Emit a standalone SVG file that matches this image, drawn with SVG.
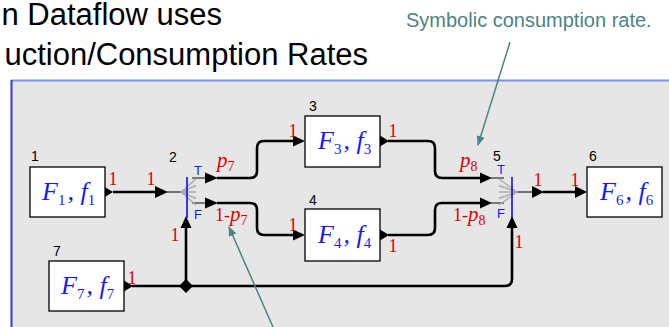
<svg xmlns="http://www.w3.org/2000/svg" width="669" height="327" viewBox="0 0 669 327">
<defs>
<style>
.title{font-family:"Liberation Sans",Arial,sans-serif;font-size:31px;fill:#000}
.note{font-family:"Liberation Sans",Arial,sans-serif;font-size:20px;fill:#4a8484}
.box{fill:#fff;stroke:#000;stroke-width:1.3}
.fn{font-family:"Liberation Serif","Times New Roman",serif;font-style:italic;font-size:26px;fill:#1a1af0}
.sub{font-style:normal;font-size:15px}
.num{font-family:"Liberation Sans",Arial,sans-serif;font-size:14px;fill:#000}
.rate{font-family:"Liberation Serif","Times New Roman",serif;font-size:18px;fill:#e00000}
.rit{font-style:italic;font-size:21px}
.tf{font-family:"Liberation Sans",Arial,sans-serif;font-size:13px;fill:#1a1af0;text-anchor:middle}
.wire{fill:none;stroke:#000;stroke-width:2.6}
.thin{fill:none;stroke:#555;stroke-width:1.6}
.fan{fill:none;stroke:#aaa;stroke-width:1.4}
.sw{stroke:#1010f0;stroke-width:1.6}
.ann{fill:none;stroke:#4a8484;stroke-width:1.5}
</style>
<marker id="ah" viewBox="0 0 10 8" refX="9" refY="4" markerWidth="10" markerHeight="8" markerUnits="userSpaceOnUse" orient="auto">
<path d="M0,0 L10,4 L0,8 z" fill="#4a8484"/>
</marker>
</defs>
<rect width="669" height="327" fill="#fff"/>
<text class="title" x="222" y="25" text-anchor="end">n Dataflow uses</text>
<text class="title" x="368" y="65" text-anchor="end">uction/Consumption Rates</text>
<rect x="12" y="80" width="657" height="247" fill="#e6e6e6"/>
<line x1="11" y1="80.5" x2="669" y2="80.5" stroke="#7f8ff2" stroke-width="2"/>
<line x1="11.5" y1="80" x2="11.5" y2="327" stroke="#2a3ce8" stroke-width="2"/>
<text class="note" x="406" y="27">Symbolic consumption rate.</text>

<g id="connectors">
<polygon points="104,186.5 113,192 104,197.5"/>
<path class="wire" d="M113 192 H158"/>
<polygon points="155,186 168,192 155,198"/>
<path class="thin" d="M167 192 H181"/>
<path class="thin" d="M192 178 H206 M192 203 H206"/>
<polygon points="205,172.5 218,178 205,183.5"/>
<polygon points="205,197.5 218,203 205,208.5"/>
<path class="wire" d="M217 178 H250 Q257 178 257 171 V148 Q257 141 264 141 H295"/>
<polygon points="293,135.5 305,141 293,146.5"/>
<path class="wire" d="M217 203 H250 Q257 203 257 210 V228 Q257 235 264 235 H295"/>
<polygon points="293,229.5 305,235 293,240.5"/>
<polygon points="380,135.5 389,141 380,146.5"/>
<polygon points="380,229.5 389,235 380,240.5"/>
<path class="wire" d="M388 141 H428 Q435 141 435 148 V171 Q435 178 442 178 H482"/>
<path class="wire" d="M388 235 H428 Q435 235 435 228 V210 Q435 203 442 203 H482"/>
<polygon points="480,172.5 492,178 480,183.5"/>
<polygon points="480,197.5 492,203 480,208.5"/>
<path class="thin" d="M491 178 H504 M491 203 H504"/>
<path class="thin" d="M516 192 H533"/>
<polygon points="532,186 544,192 532,198"/>
<path class="wire" d="M543 192 H577"/>
<polygon points="575,186 587,192 575,198"/>
<polygon points="124,280.5 133,286 124,291.5"/>
<path class="wire" d="M132 286 H505 Q512 286 512 279 V227"/>
<polygon points="506.5,228 512,216 517.5,228"/>
<path class="wire" d="M186 286 V227"/>
<polygon points="180.5,228 186,216 191.5,228"/>
<polygon points="186,279 193,286 186,293 179,286"/>
<path class="ann" d="M510 42 L478 145" marker-end="url(#ah)"/>
<path class="ann" d="M273 327 L229 227" marker-end="url(#ah)"/>
</g>

<g id="n1">
<rect class="box" x="30" y="167" width="75" height="50"/>
<text class="num" x="35" y="161" text-anchor="middle">1</text>
<text class="fn" x="42" y="200">F<tspan class="sub" dy="5">1</tspan><tspan dx="2" dy="-5">, f</tspan><tspan class="sub" dy="5">1</tspan></text>
</g>
<g id="n2">
<text class="num" x="173" y="162" text-anchor="middle">2</text>
<path class="fan" d="M181 192 L196 179 M181 192 L196 185.5 M181 192 L196 192 M181 192 L196 198.5 M181 192 L196 205"/>
<line class="sw" x1="187" y1="177" x2="187" y2="218"/>
<text class="tf" x="198" y="175">T</text>
<text class="tf" x="198" y="219">F</text>
</g>
<g id="n3">
<rect class="box" x="305" y="116" width="75" height="51"/>
<text class="num" x="313" y="111" text-anchor="middle">3</text>
<text class="fn" x="318" y="149">F<tspan class="sub" dy="5">3</tspan><tspan dx="2" dy="-5">, f</tspan><tspan class="sub" dy="5">3</tspan></text>
</g>
<g id="n4">
<rect class="box" x="305" y="209" width="75" height="52"/>
<text class="num" x="313" y="205" text-anchor="middle">4</text>
<text class="fn" x="318" y="243">F<tspan class="sub" dy="5">4</tspan><tspan dx="2" dy="-5">, f</tspan><tspan class="sub" dy="5">4</tspan></text>
</g>
<g id="n5">
<text class="num" x="497" y="161" text-anchor="middle">5</text>
<path class="fan" d="M499 179 L517 192 M499 185.5 L517 192 M499 192 L517 192 M499 198.5 L517 192 M499 205 L517 192"/>
<line class="sw" x1="512" y1="177" x2="512" y2="218"/>
<text class="tf" x="501" y="174">T</text>
<text class="tf" x="501" y="218">F</text>
</g>
<g id="n6">
<rect class="box" x="587" y="167" width="75" height="50"/>
<text class="num" x="593" y="161" text-anchor="middle">6</text>
<text class="fn" x="600" y="200">F<tspan class="sub" dy="5">6</tspan><tspan dx="2" dy="-5">, f</tspan><tspan class="sub" dy="5">6</tspan></text>
</g>
<g id="n7">
<rect class="box" x="49" y="261" width="75" height="50"/>
<text class="num" x="57" y="256" text-anchor="middle">7</text>
<text class="fn" x="61" y="294">F<tspan class="sub" dy="5">7</tspan><tspan dx="2" dy="-5">, f</tspan><tspan class="sub" dy="5">7</tspan></text>
</g>

<g id="rates">
<text class="rate" x="113" y="185" text-anchor="middle">1</text>
<text class="rate" x="151" y="185" text-anchor="middle">1</text>
<text class="rate" x="293" y="137" text-anchor="middle">1</text>
<text class="rate" x="393" y="137" text-anchor="middle">1</text>
<text class="rate" x="293" y="231" text-anchor="middle">1</text>
<text class="rate" x="393" y="252" text-anchor="middle">1</text>
<text class="rate" x="175" y="241" text-anchor="middle">1</text>
<text class="rate" x="519" y="248" text-anchor="middle">1</text>
<text class="rate" x="538" y="186" text-anchor="middle">1</text>
<text class="rate" x="575" y="186" text-anchor="middle">1</text>
<text class="rate" x="132" y="284" text-anchor="middle">1</text>
<text class="rate" x="217" y="167"><tspan class="rit">p</tspan><tspan dy="4" font-size="14">7</tspan></text>
<text class="rate" x="215" y="221">1-<tspan class="rit">p</tspan><tspan dy="4" font-size="14">7</tspan></text>
<text class="rate" x="460" y="167"><tspan class="rit">p</tspan><tspan dy="4" font-size="14">8</tspan></text>
<text class="rate" x="453" y="221">1-<tspan class="rit">p</tspan><tspan dy="4" font-size="14">8</tspan></text>
</g>
</svg>
